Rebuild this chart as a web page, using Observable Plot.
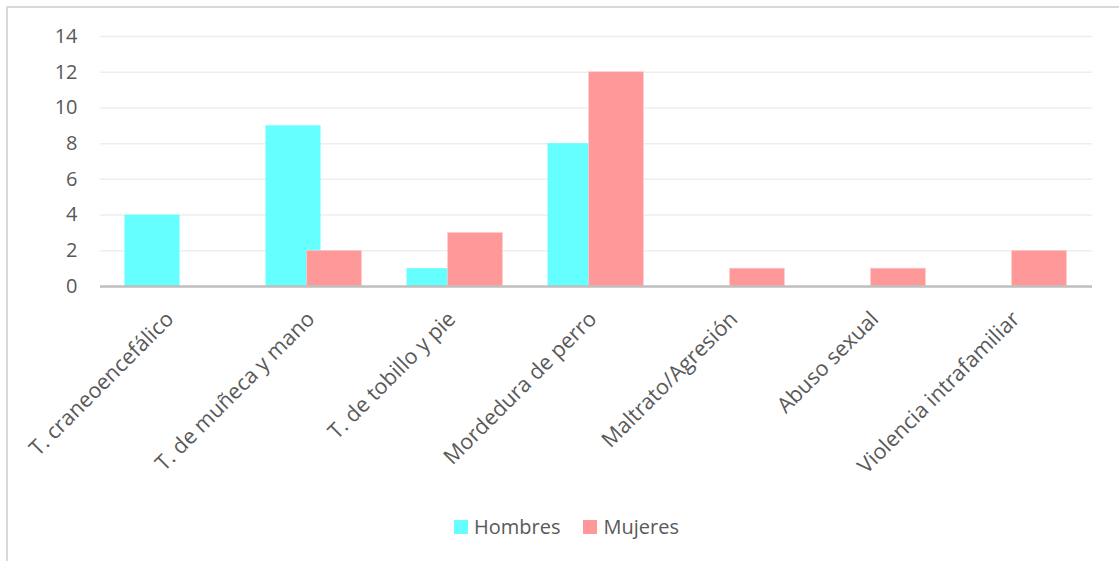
<!DOCTYPE html>
<html>
<head>
<meta charset="utf-8">
<script src="https://cdn.jsdelivr.net/npm/d3@7"></script>
<script src="https://cdn.jsdelivr.net/npm/@observablehq/plot@0.6"></script>
<style>
  html, body { margin: 0; padding: 0; background: #fff; overflow: hidden; }
  #frame { position: absolute; left: 6px; top: 6px; width: 1300px; height: 700px; border: 2px solid #d9d9d9; box-sizing: border-box; }
  #chart { position: absolute; left: 0; top: 0; }
  #legend { position: absolute; left: 454px; top: 513px; display: flex; align-items: center; font-family: "Open Sans", sans-serif; font-size: 20px; color: #595959; }
  .item { display: flex; align-items: center; margin-right: 23px; }
  .sw { width: 14px; height: 14px; margin-right: 6px; }
</style>
</head>
<body>
<div id="frame"></div>
<div id="chart"></div>
<div id="legend"></div>
<script>
const categories = ["T. craneoencefálico", "T. de muñeca y mano", "T. de tobillo y pie", "Mordedura de perro", "Maltrato/Agresión", "Abuso sexual", "Violencia intrafamiliar"];
const hombres = [4, 9, 1, 8, 0, 0, 0];
const mujeres = [0, 2, 3, 12, 1, 1, 2];
const series = ["Hombres", "Mujeres"];
const colors = ["#66FFFF", "#FF9999"];
const yTicks = [0, 2, 4, 6, 8, 10, 12, 14];

const dataH = categories.map((c, i) => ({cat: c, value: hombres[i], serie: "Hombres"}));
const dataM = categories.map((c, i) => ({cat: c, value: mujeres[i], serie: "Mujeres"}));

const textColor = "#595959";
const chart = Plot.plot({
  width: 1119,
  height: 500,
  marginLeft: 100,
  marginRight: 27,
  marginTop: 36,
  marginBottom: 214,
  style: {fontFamily: "'Open Sans', sans-serif", fontSize: "20px", color: textColor, background: "transparent"},
  x: {domain: categories, paddingInner: 0.6084, paddingOuter: 0.3042, align: 0.5, label: null},
  y: {domain: [0, 14], label: null},
  color: {domain: series, range: colors},
  marks: [
    Plot.gridY(yTicks, {stroke: "#eeeeee", strokeOpacity: 1, strokeWidth: 1.5}),
    Plot.barY(dataH, {x: "cat", y: "value", fill: "serie", dx: -20.5}),
    Plot.barY(dataM, {x: "cat", y: "value", fill: "serie", dx: 20.5, stroke: "#ffd0d0", strokeWidth: 0.6}),
    Plot.ruleY([0], {stroke: "#bfbfbf", strokeWidth: 2.5}),
    Plot.axisY(yTicks, {tickSize: 0, tickPadding: 23, fill: textColor, fontSize: 20, label: null}),
    Plot.axisX({tickSize: 0, tickPadding: 29, dx: -3, tickRotate: -45, fill: textColor, fontSize: 21.5, label: null})
  ]
});
document.getElementById("chart").appendChild(chart);

const legend = document.getElementById("legend");
series.forEach((s, i) => {
  const item = document.createElement("div");
  item.className = "item";
  const sw = document.createElement("div");
  sw.className = "sw";
  sw.style.background = colors[i];
  const t = document.createElement("span");
  t.textContent = s;
  item.appendChild(sw);
  item.appendChild(t);
  legend.appendChild(item);
});
</script>
</body>
</html>
